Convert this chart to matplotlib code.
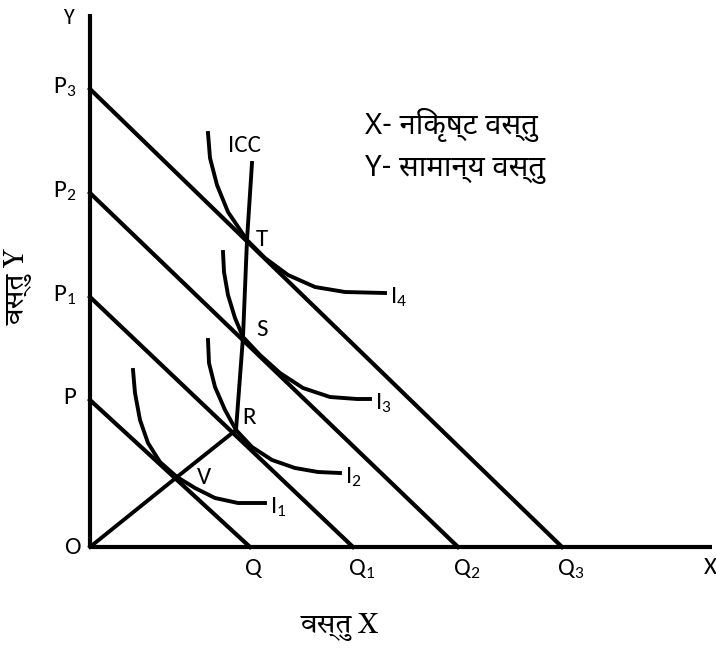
import matplotlib
matplotlib.use("Agg")
import matplotlib.pyplot as plt

plt.rcParams["mathtext.fontset"] = "custom"
plt.rcParams["mathtext.rm"] = "Carlito"
plt.rcParams["mathtext.it"] = "Carlito"

# ---------------------------
# Data (origin at O)
# ---------------------------
budget_y = [147, 250, 354, 458]      # P, P1, P2, P3 on the Y axis
budget_x = [160, 263, 368, 472]      # Q, Q1, Q2, Q3 on the X axis

i1_x = [43, 45, 50, 58, 70, 87, 105, 125, 148, 175]
i1_y = [177, 154, 127, 104, 85, 70, 59, 49, 44, 44]
i2_x = [118, 119, 125, 135, 146, 162, 182, 205, 228, 250]
i2_y = [207, 184, 160, 137, 117, 100, 87, 79, 75, 74]
i3_x = [133, 134, 138, 145, 153, 170, 190, 213, 240, 267, 280]
i3_y = [295, 275, 252, 229, 210, 192, 174, 159, 150, 148, 148]
i4_x = [118, 120, 127, 138, 157, 175, 198, 225, 255, 295]
i4_y = [414, 389, 362, 335, 307, 289, 272, 260, 255, 254]

icc_x = [146, 153, 157, 162]
icc_y = [117, 210, 307, 384]
ov_x = [0, 87, 146]
ov_y = [0, 70, 117]

x_axis_len = 622
y_axis_len = 533

sans = ["Carlito", "DejaVu Sans"]
deva = ["Noto Sans Devanagari", "DejaVu Sans"]
serif = ["Tiro Devanagari Hindi", "Noto Serif Devanagari", "DejaVu Serif"]

# ---------------------------
# Figure
# ---------------------------
fig = plt.figure(figsize=(7.16, 6.49), dpi=100)
ax = fig.add_axes([0, 0, 1, 1])
ax.set_xlim(-90, 626)
ax.set_ylim(-102, 547)
ax.axis("off")

lw = 3
ax.plot([0, 0], [0, y_axis_len], color="black", lw=lw, solid_capstyle="butt")
ax.plot([0, x_axis_len], [0, 0], color="black", lw=lw, solid_capstyle="butt")

for yi, xi in zip(budget_y, budget_x):
    ax.plot([0, xi], [yi, 0], color="black", lw=lw)

for cx, cy in [(i1_x, i1_y), (i2_x, i2_y), (i3_x, i3_y), (i4_x, i4_y)]:
    ax.plot(cx, cy, color="black", lw=2.8, solid_joinstyle="round")

ax.plot(icc_x, icc_y, color="black", lw=2.8, solid_joinstyle="round")
ax.plot(ov_x, ov_y, color="black", lw=2.8)

fs = 18
# axis letters
ax.text(-22, 529, "Y", fontsize=16, family=sans, ha="center", va="center")
ax.text(620, -20, "X", fontsize=fs, family=sans, ha="center", va="center")
ax.text(-18, 0, "O", fontsize=fs, family=sans, ha="center", va="center")

p_labels = ["P", r"P$_{1}$", r"P$_{2}$", r"P$_{3}$"]
for yi, lab in zip(budget_y, p_labels):
    ax.text(-14, yi + 2, lab, fontsize=fs, family=sans, ha="right", va="center")

q_labels = ["Q", r"Q$_{1}$", r"Q$_{2}$", r"Q$_{3}$"]
for xi, lab in zip(budget_x, q_labels):
    ax.text(xi - 5, -22, lab, fontsize=fs, family=sans, ha="left", va="center")

# point labels
ax.text(ov_x[1] + 27, ov_y[1], "V", fontsize=fs, family=sans, ha="center", va="center")
ax.text(icc_x[0] + 13, icc_y[0] + 12, "R", fontsize=fs, family=sans, ha="center", va="center")
ax.text(icc_x[1] + 19, icc_y[1] + 7, "S", fontsize=fs, family=sans, ha="center", va="center")
ax.text(icc_x[2] + 15, icc_y[2] + 1, "T", fontsize=fs, family=sans, ha="center", va="center")
ax.text(icc_x[3] - 7, 402, "ICC", fontsize=fs, family=sans, ha="center", va="center")

ax.text(i1_x[-1] + 5, i1_y[-1] - 4, r"I$_{1}$", fontsize=fs, family=sans, ha="left", va="center")
ax.text(i2_x[-1] + 5, i2_y[-1] - 4, r"I$_{2}$", fontsize=fs, family=sans, ha="left", va="center")
ax.text(i3_x[-1] + 5, i3_y[-1] - 4, r"I$_{3}$", fontsize=fs, family=sans, ha="left", va="center")
ax.text(i4_x[-1] + 5, i4_y[-1] - 4, r"I$_{4}$", fontsize=fs, family=sans, ha="left", va="center")

# note
ax.text(275, 422, "X- निकृष्ट वस्तु", fontsize=21, family=deva, ha="left", va="center")
ax.text(275, 377, "Y- सामान्य वस्तु", fontsize=21, family=deva, ha="left", va="center")

# axis titles
ax.text(250, -80, "वस्तु X", fontsize=20, family=serif, ha="center", va="center")
ax.text(-72, 260, "वस्तु Y", fontsize=20, family=serif, ha="center", va="center", rotation=90)

fig.savefig("out.png", dpi=100)
